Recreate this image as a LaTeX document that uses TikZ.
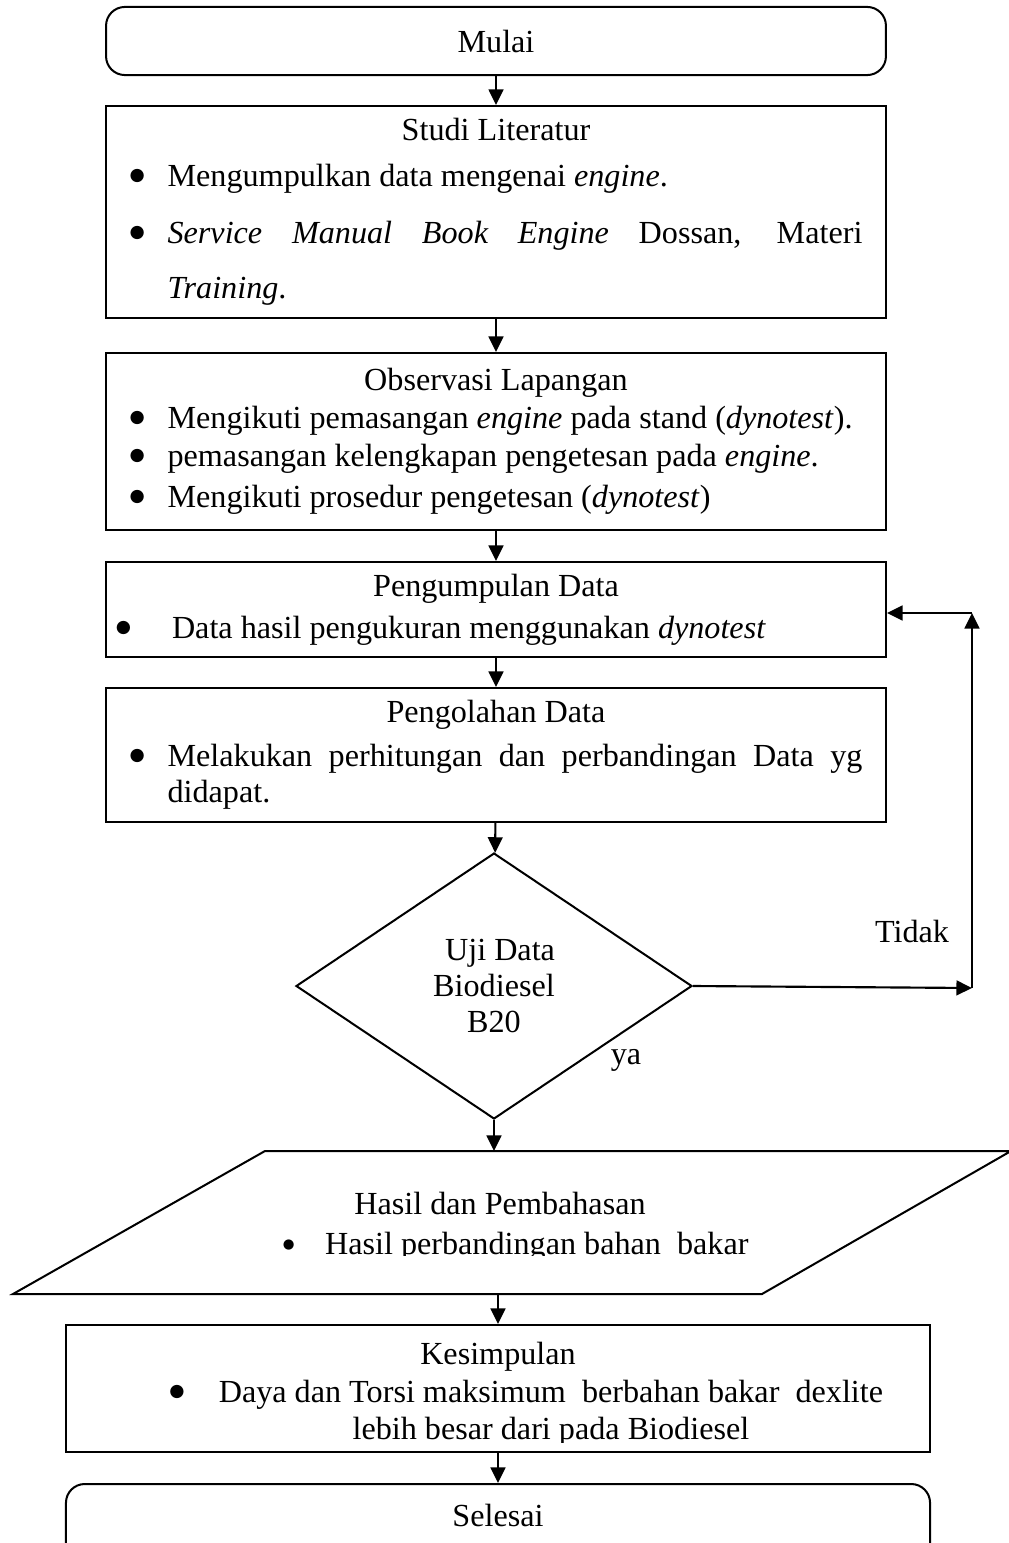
\documentclass[tikz,border=0pt]{standalone}
\usepackage{fontspec}
\setmainfont{Liberation Serif}
\newfontfamily\simbol{DejaVu Sans}
\usetikzlibrary{shapes.geometric,arrows.meta}
\newcommand{\bulat}[1][6.5]{\raisebox{2.2pt}{\simbol\fontsize{#1}{#1}\selectfont ●}}
\newcommand{\titik}[1][14.2pt]{\makebox[#1][l]{\bulat}}

\begin{document}
\begin{tikzpicture}[x=0.373pt,y=-0.373pt,
  font=\fontsize{12}{14}\selectfont,
  proses/.style={draw,line width=0.75pt,inner sep=0pt,align=center,minimum width=290.9pt},
  terminal/.style={proses,rounded corners=7pt},
  keputusan/.style={draw,line width=0.75pt,diamond,inner sep=0pt,align=center,
    minimum width=147.7pt,minimum height=99.2pt},
  panah/.style={line width=0.8pt,-{Triangle[length=5.8pt,width=5.5pt]}}]
\path[use as bounding box,fill=white] (0,0) rectangle (1009,1543);

\node[terminal,minimum height=25.4pt] (mulai) at (496,41) {Mulai};
\node[proses,minimum height=79.1pt] (studi) at (496,212) {Studi Literatur\\[3.2pt]
  \titik\makebox[259.2pt][l]{Mengumpulkan data mengenai \emph{engine}.}\\[7.3pt]
  \titik\makebox[259.2pt][s]{\emph{Service Manual Book Engine} Dossan, Materi}\\[6.5pt]
  \makebox[14.2pt]{}\makebox[259.2pt][l]{\emph{Training}.}};
\node[proses,minimum height=66pt] (observasi) at (496,441.5) {Observasi Lapangan\\[0.2pt]
  \titik\makebox[259.2pt][l]{Mengikuti pemasangan \emph{engine} pada stand (\emph{dynotest}).}\\[0.2pt]
  \titik\makebox[259.2pt][l]{pemasangan kelengkapan pengetesan pada \emph{engine}.}\\[1.3pt]
  \titik\makebox[259.2pt][l]{Mengikuti prosedur pengetesan (\emph{dynotest})}};
\node[proses,minimum height=35.4pt] (kumpul) at (496,609.5) {Pengumpulan Data\\[1.7pt]
  \titik[20.9pt]\makebox[262.6pt][l]{Data hasil pengukuran menggunakan \emph{dynotest}}};
\node[proses,minimum height=50pt] (olah) at (496,755) {Pengolahan Data\\[2.4pt]
  \titik\makebox[259.2pt][s]{Melakukan perhitungan dan perbandingan Data yg}\\[-0.6pt]
  \makebox[14.2pt]{}\makebox[259.2pt][l]{didapat.}};
\node[keputusan] (uji) at (494,986) {\hspace*{4.5pt}Uji Data\\[-0.6pt]Biodiesel\\[-0.6pt]B20};
\node (tidak) at (912,931) {Tidak};
\node (ya) at (626,1060) {ya};

\coordinate (paraTop) at (494,1151);
\coordinate (paraBot) at (498,1294);
\draw[line width=0.75pt] (13,1294) -- (265,1151) -- (1011,1151) -- (762,1294) -- cycle;
\begin{scope}
  \clip (0,0) rectangle (1009,1255);
  \node[align=center] (hasil) at (500,1227) {Hasil dan Pembahasan\\[0.9pt]
    \makebox[15.7pt][l]{\bulat[5]}\makebox[146.2pt][l]{Hasil perbandingan bahan\ \ bakar}};
\end{scope}

\node[proses,minimum width=322.3pt,minimum height=47.4pt] (kes) at (498,1388.5) {};
\begin{scope}
  \clip (0,0) rectangle (1009,1442);
  \node[align=center] (kestext) at (498,1394) {Kesimpulan\\[0.2pt]
    \makebox[39.5pt][l]{\bulat}\makebox[205.7pt]{Daya dan Torsi maksimum\ \ berbahan bakar\ \ dexlite}\\[-0.2pt]
    \makebox[39.5pt]{}\makebox[205.7pt]{lebih besar dari pada Biodiesel}};
\end{scope}
\node[terminal,anchor=north,minimum width=322.3pt,minimum height=37.3pt,text depth=14pt] (selesai) at (498,1483) {Selesai};

\draw[panah] (mulai) -- (studi);
\draw[panah] (studi) -- (observasi);
\draw[panah] (observasi) -- (kumpul);
\draw[panah] (kumpul) -- (olah);
\draw[panah] (olah) -- (uji);
\draw[panah] (uji.south) -- (uji.south |- paraTop);
\draw[panah] (kes.north |- paraBot) -- (kes.north);
\draw[panah] (kes) -- (selesai);

\coordinate (tidakUjung) at (972,988);
\coordinate (balik) at (972,613);
\draw[panah] (uji.east) -- (tidakUjung);
\draw[panah] (tidakUjung) -- (balik);
\draw[panah] (balik) -- (balik -| kumpul.east);
\end{tikzpicture}
\end{document}
